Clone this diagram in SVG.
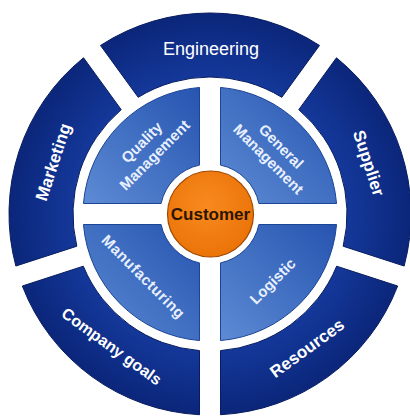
<svg xmlns="http://www.w3.org/2000/svg" width="410" height="417" viewBox="0 0 410 417">
  <defs>
    <radialGradient id="gOuter" gradientUnits="userSpaceOnUse" cx="210" cy="214" r="201">
      <stop offset="0.68" stop-color="#14389a"/>
      <stop offset="1" stop-color="#0b267a"/>
    </radialGradient>
    <linearGradient id="gInner" x1="1" y1="0" x2="0" y2="1">
      <stop offset="0" stop-color="#2654b0"/>
      <stop offset="1" stop-color="#5d8bd4"/>
    </linearGradient>
    <radialGradient id="gOrange" cx="0.45" cy="0.4" r="0.65">
      <stop offset="0" stop-color="#f88a20"/>
      <stop offset="1" stop-color="#ea7206"/>
    </radialGradient>
    <style>
      .outer { fill: url(#gOuter); stroke: #081c5e; stroke-width: 1; }
      .inner { fill: url(#gInner); stroke: #1d4596; stroke-width: 1; }
      .lblO { font-family: "Liberation Sans", Arial, sans-serif; fill: #ffffff; text-anchor: middle; }
      .lblI { font-family: "Liberation Sans", Arial, sans-serif; fill: #e8f0ff; font-weight: bold; font-size: 15px; text-anchor: middle; }
    </style>
  </defs>
  <rect x="0" y="0" width="410" height="417" fill="#ffffff"/>

  <g id="engineering">
    <path class="outer" d="M100.511,45.437 A201,201 0 0 1 319.489,45.437 L281.795,97.319 A137,137 0 0 0 138.205,97.319 Z"/>
    <text class="lblO" x="211" y="55" font-size="18">Engineering</text>
  </g>
  <g id="supplier">
    <path class="outer" d="M336.479,57.781 A201,201 0 0 1 404.147,266.042 L343.157,246.225 A137,137 0 0 0 298.785,109.663 Z"/>
    <text class="lblO" font-size="17" font-weight="bold" transform="translate(369,163) rotate(72)" x="0" y="6">Supplier</text>
  </g>
  <g id="resources">
    <path class="outer" d="M397.657,286.014 A201,201 0 0 1 220.5,414.726 L220.5,350.597 A137,137 0 0 0 336.667,266.197 Z"/>
    <text class="lblO" font-size="17" font-weight="bold" transform="translate(307,348) rotate(-36)" x="0" y="6">Resources</text>
  </g>
  <g id="company-goals">
    <path class="outer" d="M199.5,414.726 A201,201 0 0 1 22.343,286.014 L83.333,266.197 A137,137 0 0 0 199.5,350.597 Z"/>
    <text class="lblO" font-size="16" font-weight="bold" transform="translate(112,346) rotate(36)" x="0" y="6">Company goals</text>
  </g>
  <g id="marketing">
    <path class="outer" d="M15.853,266.042 A201,201 0 0 1 83.521,57.781 L121.215,109.663 A137,137 0 0 0 76.843,246.225 Z"/>
    <text class="lblO" font-size="17" font-weight="bold" transform="translate(53,162) rotate(-72)" x="0" y="6">Marketing</text>
  </g>

  <g id="quality-management">
    <path class="inner" d="M199.5,87.43 A127,127 0 0 0 83.43,203.5 L161.1,203.5 A50,50 0 0 1 199.5,165.1 Z"/>
    <text class="lblI" transform="translate(148,148.5) rotate(-45)"><tspan x="0" y="-3.5">Quality</tspan><tspan x="0" y="14.5">Management</tspan></text>
  </g>
  <g id="general-management">
    <path class="inner" d="M220.5,87.43 L220.5,165.1 A50,50 0 0 1 258.9,203.5 L336.57,203.5 A127,127 0 0 0 220.5,87.43 Z"/>
    <text class="lblI" transform="translate(275,152.5) rotate(45)"><tspan x="0" y="-3.5">General</tspan><tspan x="0" y="14.5">Management</tspan></text>
  </g>
  <g id="manufacturing">
    <path class="inner" d="M199.5,340.57 A127,127 0 0 1 83.43,224.5 L161.1,224.5 A50,50 0 0 0 199.5,262.9 Z"/>
    <text class="lblI" font-size="11" letter-spacing="0.6" transform="translate(142.5,277.5) rotate(45)" x="0" y="4">Manufacturing</text>
  </g>
  <g id="logistic">
    <path class="inner" d="M220.5,340.57 L220.5,262.9 A50,50 0 0 0 258.9,224.5 L336.57,224.5 A127,127 0 0 1 220.5,340.57 Z"/>
    <text class="lblI" transform="translate(272.5,281) rotate(-45)" x="0" y="5.4">Logistic</text>
  </g>

  <g id="customer">
    <circle cx="210.5" cy="214" r="43" fill="url(#gOrange)" stroke="#a04800" stroke-width="1.2"/>
    <text x="210.5" y="220" font-family="'Liberation Sans', Arial, sans-serif" font-weight="bold" font-size="17" fill="#2b1500" text-anchor="middle">Customer</text>
  </g>

  <g id="connectors"></g>
</svg>
